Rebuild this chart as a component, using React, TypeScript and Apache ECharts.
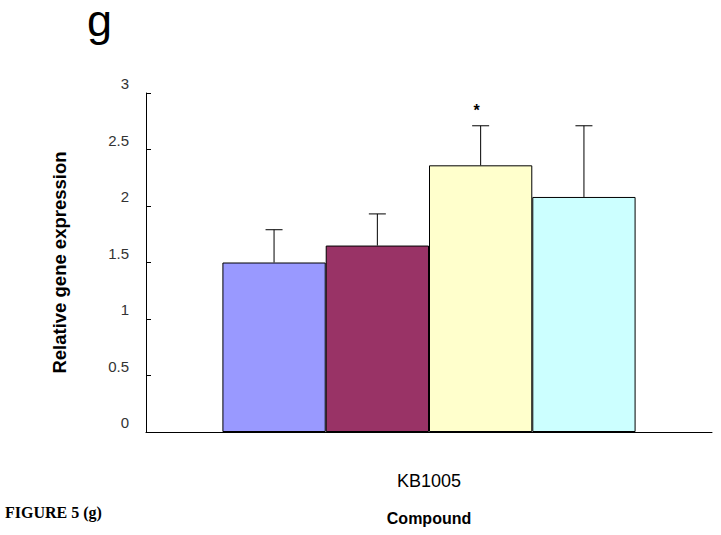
import React, { useEffect, useRef } from "react";
import * as echarts from "echarts";

const categories = ["KB1005"];
const seriesNames = ["Group 1", "Group 2", "Group 3", "Group 4"];
const means = [1.5, 1.65, 2.36, 2.08];
const errors = [0.29, 0.28, 0.35, 0.63];
const significance = ["", "", "*", ""];
const colors = ["#9999FF", "#993366", "#FFFFCC", "#CCFFFF"];
const yTicks = [0, 0.5, 1, 1.5, 2, 2.5, 3];

export default function App() {
  const ref = useRef<HTMLDivElement>(null);
  useEffect(() => {
    document.body.style.margin = "0";
    const chart = echarts.init(ref.current!, null, { renderer: "svg" });
    const n = seriesNames.length;
    const catGap = 0.27;
    const barSeries = seriesNames.map((name, i) => ({
      name,
      type: "bar",
      data: [means[i]],
      barGap: "0%",
      barCategoryGap: "27%",
      itemStyle: { color: colors[i], borderColor: "#000", borderWidth: 1 },
    }));
    const errData = means.map((m, i) => [0, i, m, errors[i]]);
    const option: any = {
      animation: false,
      backgroundColor: "#fff",
      grid: { left: 146, top: 93, right: 9, bottom: 103, containLabel: false },
      xAxis: {
        type: "category",
        data: categories,
        axisLine: { lineStyle: { color: "#000", width: 1 } },
        axisTick: { show: false },
        axisLabel: { color: "#000", fontSize: 18, fontFamily: "Liberation Sans, Arial", margin: 40 },
        name: "Compound",
        nameLocation: "middle",
        nameGap: 78,
        nameTextStyle: { color: "#000", fontSize: 16, fontWeight: "bold", fontFamily: "Liberation Sans, Arial" },
      },
      yAxis: {
        type: "value",
        min: 0,
        max: 3,
        interval: 0.5,
        axisLine: { show: true, lineStyle: { color: "#000", width: 1 } },
        axisTick: { show: true, inside: true, length: 5, lineStyle: { color: "#000" } },
        splitLine: { show: false },
        axisLabel: {
          color: "#333",
          fontSize: 15,
          fontFamily: "Liberation Sans, Arial",
          margin: 17,
          verticalAlign: "bottom",
          padding: [0, 0, 2, 0],
          formatter: (v: number) => (yTicks.includes(v) ? String(v) : ""),
        },
        name: "Relative gene expression",
        nameLocation: "middle",
        nameGap: 77,
        nameTextStyle: { color: "#000", fontSize: 18.5, fontWeight: "bold", fontFamily: "Liberation Sans, Arial" },
      },
      series: [
        ...barSeries,
        {
          type: "custom",
          data: errData,
          encode: { x: 0, y: 2 },
          z: 5,
          renderItem: (params: any, api: any) => {
            const cat = api.value(0);
            const idx = api.value(1);
            const m = api.value(2);
            const e = api.value(3);
            const sig = significance[idx];
            const band = api.size([1, 0])[0];
            const bw = (band * (1 - catGap)) / n;
            const cx = api.coord([cat, 0])[0] + (idx - (n - 1) / 2) * bw;
            const yTop = api.coord([cat, m + e])[1];
            const yBase = api.coord([cat, m])[1];
            const cap = 8.5;
            const children: any[] = [
              { type: "line", shape: { x1: cx, y1: yBase, x2: cx, y2: yTop }, style: { stroke: "#000", lineWidth: 1 } },
              { type: "line", shape: { x1: cx - cap, y1: yTop, x2: cx + cap, y2: yTop }, style: { stroke: "#000", lineWidth: 1 } },
            ];
            if (sig) {
              children.push({
                type: "text",
                style: {
                  text: sig,
                  x: cx - 4,
                  y: yTop - 15,
                  align: "center",
                  verticalAlign: "middle",
                  fontSize: 16,
                  fontWeight: "bold",
                  fontFamily: "Liberation Sans, Arial",
                  fill: "#000",
                },
              });
            }
            return { type: "group", children };
          },
        },
      ],
      graphic: [
        {
          type: "text",
          left: 87,
          top: -2,
          style: { text: "g", fontSize: 45, lineHeight: 36, fontFamily: "Liberation Sans, Arial", fill: "#000" },
        },
        {
          type: "text",
          left: 5,
          top: 504,
          style: { text: "FIGURE 5 (g)", fontSize: 16, fontWeight: "bold", fontFamily: "Liberation Serif, Times New Roman", fill: "#000" },
        },
      ],
    };
    chart.setOption(option);
    return () => chart.dispose();
  }, []);
  return <div ref={ref} style={{ width: 721, height: 535 }} />;
}
